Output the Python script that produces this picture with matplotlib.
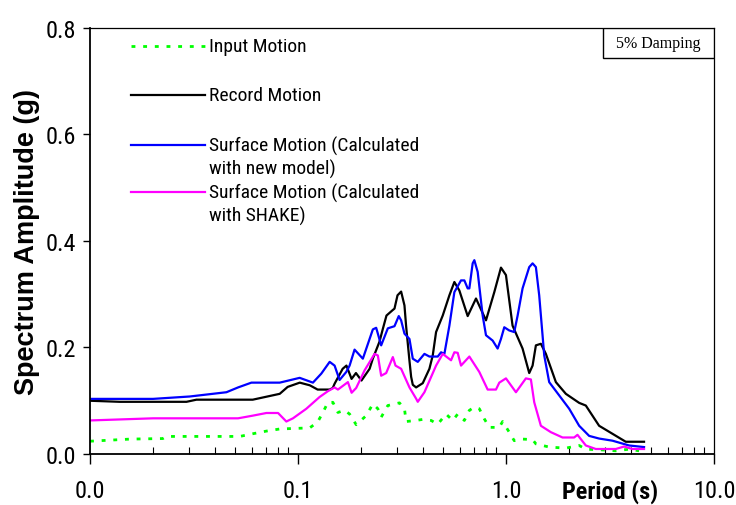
import matplotlib
matplotlib.use("Agg")
import matplotlib.pyplot as plt
from matplotlib import font_manager
from matplotlib.patches import Rectangle
from matplotlib.ticker import FixedLocator, FuncFormatter, LogLocator, NullFormatter

# narrow sans for labels, first one found
_names = {f.name for f in font_manager.fontManager.ttflist}
NARROW = "Liberation Sans"
for cand in ["Liberation Sans Narrow", "Roboto Condensed", "Archivo Narrow"]:
    if cand in _names:
        NARROW = cand
        break

# ---- response spectra (period in s, amplitude in g) ----
input_T = [0.010, 0.0156, 0.0224, 0.0233, 0.0525, 0.0606, 0.0705, 0.0817, 0.1138, 0.1243,
           0.1318, 0.1393, 0.1472, 0.1556, 0.1675, 0.1771, 0.1905, 0.2128, 0.2291, 0.2421,
           0.2512, 0.2704, 0.3076, 0.3251, 0.3311, 0.3698, 0.3981, 0.4365, 0.4699, 0.5152,
           0.5546, 0.5861, 0.631, 0.6668, 0.7047, 0.7447, 0.787, 0.8318, 0.929, 0.9638,
           1.037, 1.096, 1.202, 1.343, 1.393, 1.614, 1.941, 2.249, 2.421, 2.805,
           3.373, 3.908, 4.365]
input_sa = [0.024, 0.028, 0.029, 0.033, 0.033, 0.038, 0.043, 0.047, 0.049, 0.060,
            0.078, 0.097, 0.097, 0.078, 0.082, 0.075, 0.055, 0.072, 0.094, 0.085,
            0.069, 0.091, 0.096, 0.085, 0.061, 0.063, 0.065, 0.063, 0.056, 0.075,
            0.063, 0.075, 0.063, 0.082, 0.088, 0.085, 0.066, 0.050, 0.050, 0.061,
            0.041, 0.025, 0.028, 0.027, 0.019, 0.013, 0.011, 0.016, 0.009, 0.008,
            0.006, 0.009, 0.006]

record_T = [0.010, 0.0139, 0.0291, 0.0325, 0.0606, 0.0817, 0.0892, 0.102, 0.114, 0.1243,
            0.142, 0.147, 0.150, 0.164, 0.171, 0.181, 0.190, 0.202, 0.221, 0.229,
            0.2466, 0.2559, 0.2664, 0.2849, 0.2911, 0.301, 0.3133, 0.3251, 0.3311, 0.3436,
            0.350, 0.3565, 0.3698, 0.3981, 0.4285, 0.4446, 0.4613, 0.4966, 0.5346, 0.5649,
            0.597, 0.6546, 0.7178, 0.8017, 0.879, 0.9462, 1.0, 1.076, 1.202, 1.294,
            1.343, 1.393, 1.472, 1.556, 1.738, 1.941, 2.249, 2.421, 2.805, 3.251,
            3.767, 4.613]
record_sa = [0.100, 0.098, 0.098, 0.102, 0.102, 0.113, 0.126, 0.134, 0.129, 0.121,
             0.121, 0.124, 0.132, 0.160, 0.166, 0.141, 0.152, 0.138, 0.160, 0.179,
             0.211, 0.235, 0.260, 0.270, 0.273, 0.298, 0.305, 0.279, 0.240, 0.175,
             0.145, 0.130, 0.125, 0.133, 0.160, 0.185, 0.229, 0.260, 0.298, 0.323,
             0.307, 0.259, 0.292, 0.251, 0.304, 0.350, 0.336, 0.241, 0.198, 0.152,
             0.166, 0.204, 0.207, 0.188, 0.135, 0.113, 0.096, 0.091, 0.053, 0.038,
             0.023, 0.023]

new_model_T = [0.010, 0.0201, 0.0302, 0.0453, 0.0515, 0.0597, 0.0817, 0.1019, 0.118, 0.1295,
               0.142, 0.150, 0.1585, 0.1706, 0.1771, 0.1871, 0.2051, 0.2291, 0.2377, 0.2512,
               0.2704, 0.2911, 0.3052, 0.3133, 0.3251, 0.3436, 0.3565, 0.3767, 0.4055, 0.4285,
               0.4699, 0.4875, 0.5058, 0.5346, 0.5649, 0.6081, 0.631, 0.6546, 0.6668, 0.6918,
               0.7047, 0.7311, 0.7727, 0.8017, 0.863, 0.912, 0.9462, 0.9817, 1.037, 1.096,
               1.138, 1.202, 1.294, 1.343, 1.393, 1.445, 1.528, 1.614, 1.803, 2.014,
               2.249, 2.512, 2.805, 3.251, 3.908, 4.613]
new_model_sa = [0.1035, 0.1035, 0.108, 0.116, 0.125, 0.134, 0.134, 0.143, 0.134, 0.151,
                0.173, 0.166, 0.139, 0.154, 0.166, 0.196, 0.179, 0.234, 0.237, 0.204,
                0.236, 0.240, 0.259, 0.251, 0.226, 0.216, 0.179, 0.173, 0.188, 0.183,
                0.183, 0.191, 0.188, 0.241, 0.304, 0.326, 0.326, 0.311, 0.311, 0.358,
                0.364, 0.342, 0.260, 0.223, 0.213, 0.198, 0.216, 0.238, 0.232, 0.229,
                0.260, 0.311, 0.351, 0.358, 0.351, 0.298, 0.185, 0.135, 0.110, 0.085,
                0.053, 0.034, 0.029, 0.025, 0.016, 0.013]

shake_T = [0.010, 0.0201, 0.0515, 0.0606, 0.0705, 0.0802, 0.0879, 0.0946, 0.1097, 0.127,
           0.1393, 0.150, 0.1556, 0.1738, 0.1811, 0.1905, 0.209, 0.2335, 0.2421, 0.2512,
           0.2655, 0.2858, 0.2944, 0.3133, 0.3436, 0.3698, 0.3767, 0.4055, 0.4613, 0.4966,
           0.5445, 0.5649, 0.5861, 0.6081, 0.6668, 0.7447, 0.8166, 0.8954, 0.929, 1.0,
           1.117, 1.247, 1.318, 1.368, 1.472, 1.644, 1.871, 2.128, 2.208, 2.421,
           2.704, 3.373, 3.698, 4.055, 4.613]
shake_sa = [0.063, 0.067, 0.067, 0.072, 0.077, 0.077, 0.061, 0.067, 0.085, 0.107,
            0.118, 0.125, 0.121, 0.135, 0.115, 0.124, 0.157, 0.188, 0.185, 0.147,
            0.152, 0.182, 0.166, 0.160, 0.125, 0.104, 0.098, 0.116, 0.166, 0.188,
            0.176, 0.191, 0.190, 0.166, 0.183, 0.154, 0.121, 0.121, 0.134, 0.142,
            0.116, 0.142, 0.140, 0.097, 0.053, 0.041, 0.031, 0.031, 0.036, 0.016,
            0.0094, 0.0094, 0.014, 0.0094, 0.0094]

x_ticks = [0.01, 0.1, 1.0, 10.0]
y_ticks = [0.0, 0.2, 0.4, 0.6, 0.8]

series = [
    (input_T, input_sa, "Input Motion", dict(color="#00ff00", lw=2.0, linestyle=(0, (1.4, 2.8)))),
    (record_T, record_sa, "Record Motion", dict(color="black", lw=1.6)),
    (new_model_T, new_model_sa, "Surface Motion (Calculated\nwith new model)", dict(color="#0000ff", lw=1.6)),
    (shake_T, shake_sa, "Surface Motion (Calculated\nwith SHAKE)", dict(color="#ff00ff", lw=1.6)),
]

fig = plt.figure(figsize=(7.36, 5.06), dpi=100)
ax = fig.add_axes([0.1223, 0.1008, 0.8477, 0.8419])

for T, sa, label, style in series:
    ax.plot(T, sa, label=label, **style)

ax.set_xscale("log")
ax.set_xlim(0.01, 10)
ax.set_ylim(0, 0.8)
ax.xaxis.set_major_locator(FixedLocator(x_ticks))
ax.xaxis.set_major_formatter(FuncFormatter(lambda v, p: f"{v:.1f}"))
ax.xaxis.set_minor_locator(LogLocator(base=10, subs=range(2, 10)))
ax.xaxis.set_minor_formatter(NullFormatter())
ax.set_yticks(y_ticks)
ax.yaxis.set_major_formatter(FuncFormatter(lambda v, p: f"{v:.1f}"))

ax.tick_params(axis="x", which="major", direction="out", length=7, width=1, pad=11)
ax.tick_params(axis="x", which="minor", direction="in", length=5, width=0.8)
ax.tick_params(axis="y", which="major", direction="out", length=5, width=1, pad=5)
for lab in ax.get_xticklabels() + ax.get_yticklabels():
    lab.set_fontfamily(NARROW)
    lab.set_fontsize(17.5)

for side in ["left", "bottom"]:
    ax.spines[side].set_linewidth(1.3)
for side in ["top", "right"]:
    ax.spines[side].set_linewidth(0.9)

ax.set_ylabel("Spectrum Amplitude (g)", fontsize=19.5, fontweight="bold",
              fontfamily="Liberation Sans", labelpad=4)
ax.text(0.834, -0.087, "Period (s)", transform=ax.transAxes, ha="center", va="center",
        fontsize=17.5, fontweight="bold", fontfamily=NARROW)

# legend drawn by hand so the key sits beside the first line of each label
rows = [0.958, 0.843, 0.725, 0.615]
line_step = 0.054
for (T, sa, label, style), yr in zip(series, rows):
    ax.plot([0.0657, 0.184], [yr, yr], transform=ax.transAxes, clip_on=False, **style)
    for k, part in enumerate(label.split("\n")):
        ax.text(0.191, yr - k * line_step, part, transform=ax.transAxes, ha="left",
                va="center", fontsize=14, fontfamily=NARROW)

# damping note in the corner
ax.add_patch(Rectangle((0.822, 0.9296), 0.178, 0.0704, transform=ax.transAxes,
                       facecolor="white", edgecolor="black", lw=1, zorder=5))
ax.text(0.911, 0.9648, "5% Damping", transform=ax.transAxes, ha="center", va="center",
        fontsize=11.5, fontfamily="Liberation Serif", zorder=6)

fig.savefig("out.png", dpi=100)
